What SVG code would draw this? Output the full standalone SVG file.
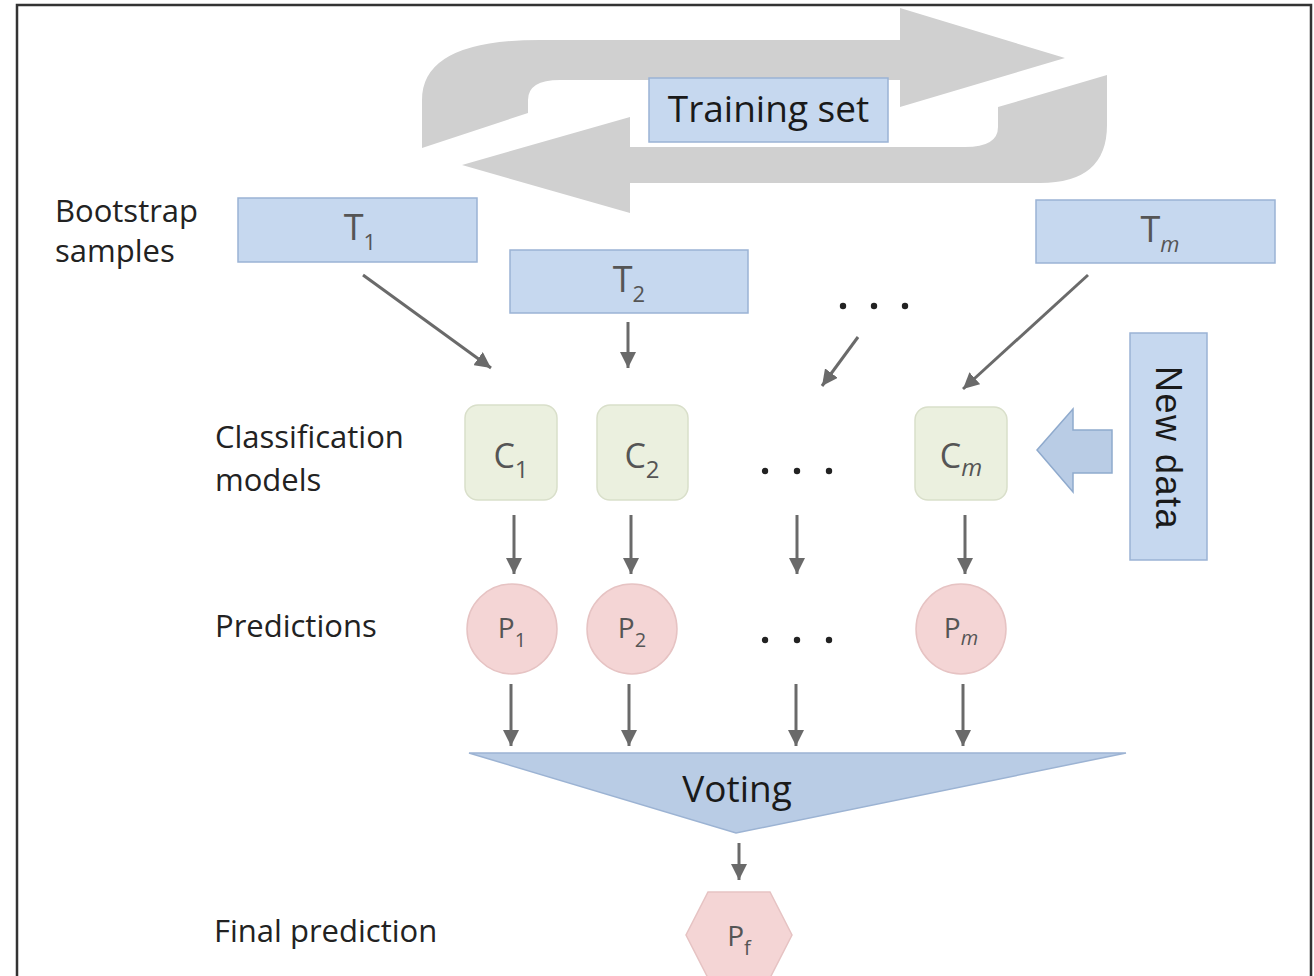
<svg xmlns="http://www.w3.org/2000/svg" width="1314" height="976" viewBox="0 0 1314 976">
<defs>
<style>
.lbl{font-family:"Open Sans","Liberation Sans",sans-serif;font-size:31px;fill:#222}
.big{font-family:"Open Sans","Liberation Sans",sans-serif;font-size:37px;fill:#1a1a1a}
.sym{font-family:"Open Sans","Liberation Sans",sans-serif;fill:#555;text-anchor:middle}
.bbox{fill:#c6d8ef;stroke:#9ab3d5;stroke-width:1.5}
.cbox{fill:#ebf0df;stroke:#d9dfca;stroke-width:1.5}
.pc{fill:#f4d5d5;stroke:#e6c3c3;stroke-width:1.5}
.loop{fill:#d0d0d0}
.conn{stroke:#6a6a6a;stroke-width:3;fill:none;marker-end:url(#ah)}
.dot{fill:#222}
</style>
<marker id="ah" markerUnits="userSpaceOnUse" markerWidth="16" markerHeight="16" refX="16" refY="8" orient="auto">
<path d="M0,0 L16,8 L0,16 Z" fill="#6a6a6a"/>
</marker>
</defs>
<rect x="0" y="0" width="1314" height="976" fill="#fff"/>
<path d="M17,976 L17,5 L1311,5 L1311,976" fill="none" stroke="#333" stroke-width="2.5"/>

<g id="loop">
<path class="loop" d="M422,148 L422,100 Q422,40 540,40 L900,40 L900,8 L1065,58 L900,107 L900,80 L560,80 Q528,80 528,100 L528,113 Z"/>
<path class="loop" d="M1107,75 L1107,125 Q1107,183 1040,183 L630,183 L630,213 L462,165 L630,117 L630,147 L965,147 Q998,147 998,127 L998,107 Z"/>
</g>

<g id="training-set">
<rect class="bbox" x="649" y="78" width="239" height="64"/>
<text class="big" x="768.5" y="122" text-anchor="middle">Training set</text>
</g>

<g id="labels">
<text class="lbl" x="55" y="222">Bootstrap</text>
<text class="lbl" x="55" y="262">samples</text>
<text class="lbl" x="215" y="448">Classification</text>
<text class="lbl" x="215" y="491">models</text>
<text class="lbl" x="215" y="637">Predictions</text>
<text class="lbl" x="214" y="942">Final prediction</text>
</g>

<g id="T1">
<rect class="bbox" x="238" y="198" width="239" height="64"/>
<text class="sym" x="360" y="240" font-size="36">T<tspan font-size="22" dy="10">1</tspan></text>
</g>
<g id="T2">
<rect class="bbox" x="510" y="250" width="238" height="63"/>
<text class="sym" x="629" y="292" font-size="36">T<tspan font-size="22" dy="10">2</tspan></text>
</g>
<g id="Tm">
<rect class="bbox" x="1036" y="200" width="239" height="63"/>
<text class="sym" x="1160" y="242" font-size="36">T<tspan font-size="22" dy="10" font-style="italic">m</tspan></text>
</g>

<g id="dots">
<circle class="dot" cx="843" cy="306" r="3.2"/><circle class="dot" cx="874" cy="306" r="3.2"/><circle class="dot" cx="905" cy="306" r="3.2"/>
<circle class="dot" cx="765" cy="471" r="3.2"/><circle class="dot" cx="797" cy="471" r="3.2"/><circle class="dot" cx="829" cy="471" r="3.2"/>
<circle class="dot" cx="765" cy="640" r="3.2"/><circle class="dot" cx="797" cy="640" r="3.2"/><circle class="dot" cx="829" cy="640" r="3.2"/>
</g>

<g id="C1">
<rect class="cbox" x="465" y="405" width="92" height="95" rx="13"/>
<text class="sym" x="511" y="468" font-size="34">C<tspan font-size="24" dy="10">1</tspan></text>
</g>
<g id="C2">
<rect class="cbox" x="597" y="405" width="91" height="95" rx="13"/>
<text class="sym" x="642" y="468" font-size="34">C<tspan font-size="24" dy="10">2</tspan></text>
</g>
<g id="Cm">
<rect class="cbox" x="915" y="407" width="92" height="93" rx="13"/>
<text class="sym" x="961" y="468" font-size="34">C<tspan font-size="24" dy="8" font-style="italic">m</tspan></text>
</g>

<g id="P1">
<circle class="pc" cx="512" cy="629" r="45"/>
<text class="sym" x="512" y="638" font-size="28">P<tspan font-size="20" dy="9">1</tspan></text>
</g>
<g id="P2">
<circle class="pc" cx="632" cy="629" r="45"/>
<text class="sym" x="632" y="638" font-size="28">P<tspan font-size="20" dy="9">2</tspan></text>
</g>
<g id="Pm">
<circle class="pc" cx="961" cy="629" r="45"/>
<text class="sym" x="961" y="638" font-size="28">P<tspan font-size="20" dy="7" font-style="italic">m</tspan></text>
</g>

<g id="new-data">
<path d="M1037,450 L1073,409 L1073,430 L1112,430 L1112,473 L1073,473 L1073,492 Z" fill="#b9cce5" stroke="#8faacd" stroke-width="1.5"/>
<rect class="bbox" x="1130" y="333" width="77" height="227"/>
<text transform="translate(1156,448) rotate(90)" font-family="'Liberation Sans',Arial,sans-serif" font-size="36" letter-spacing="1.5" fill="#1a1a1a" text-anchor="middle">New data</text>
</g>

<g id="voting">
<path d="M469,753 L1126,753 L736,833 Z" fill="#b9cce5" stroke="#9cb3d3" stroke-width="1.5"/>
<text class="big" x="737" y="802" text-anchor="middle">Voting</text>
</g>

<g id="Pf">
<path d="M708,892 L770,892 L792,935 L770,978 L708,978 L686,935 Z" class="pc"/>
<text class="sym" x="739" y="946" font-size="28">P<tspan font-size="20" dy="9">f</tspan></text>
</g>

<g id="connectors">
<line class="conn" x1="363" y1="275" x2="491" y2="368"/>
<line class="conn" x1="628" y1="322" x2="628" y2="368"/>
<line class="conn" x1="858" y1="337" x2="822" y2="386"/>
<line class="conn" x1="1088" y1="275" x2="963" y2="389"/>
<line class="conn" x1="514" y1="515" x2="514" y2="574"/>
<line class="conn" x1="631" y1="515" x2="631" y2="574"/>
<line class="conn" x1="797" y1="515" x2="797" y2="574"/>
<line class="conn" x1="965" y1="515" x2="965" y2="574"/>
<line class="conn" x1="511" y1="684" x2="511" y2="746"/>
<line class="conn" x1="629" y1="684" x2="629" y2="746"/>
<line class="conn" x1="796" y1="684" x2="796" y2="746"/>
<line class="conn" x1="963" y1="684" x2="963" y2="746"/>
<line class="conn" x1="739" y1="843" x2="739" y2="880"/>
</g>
</svg>
